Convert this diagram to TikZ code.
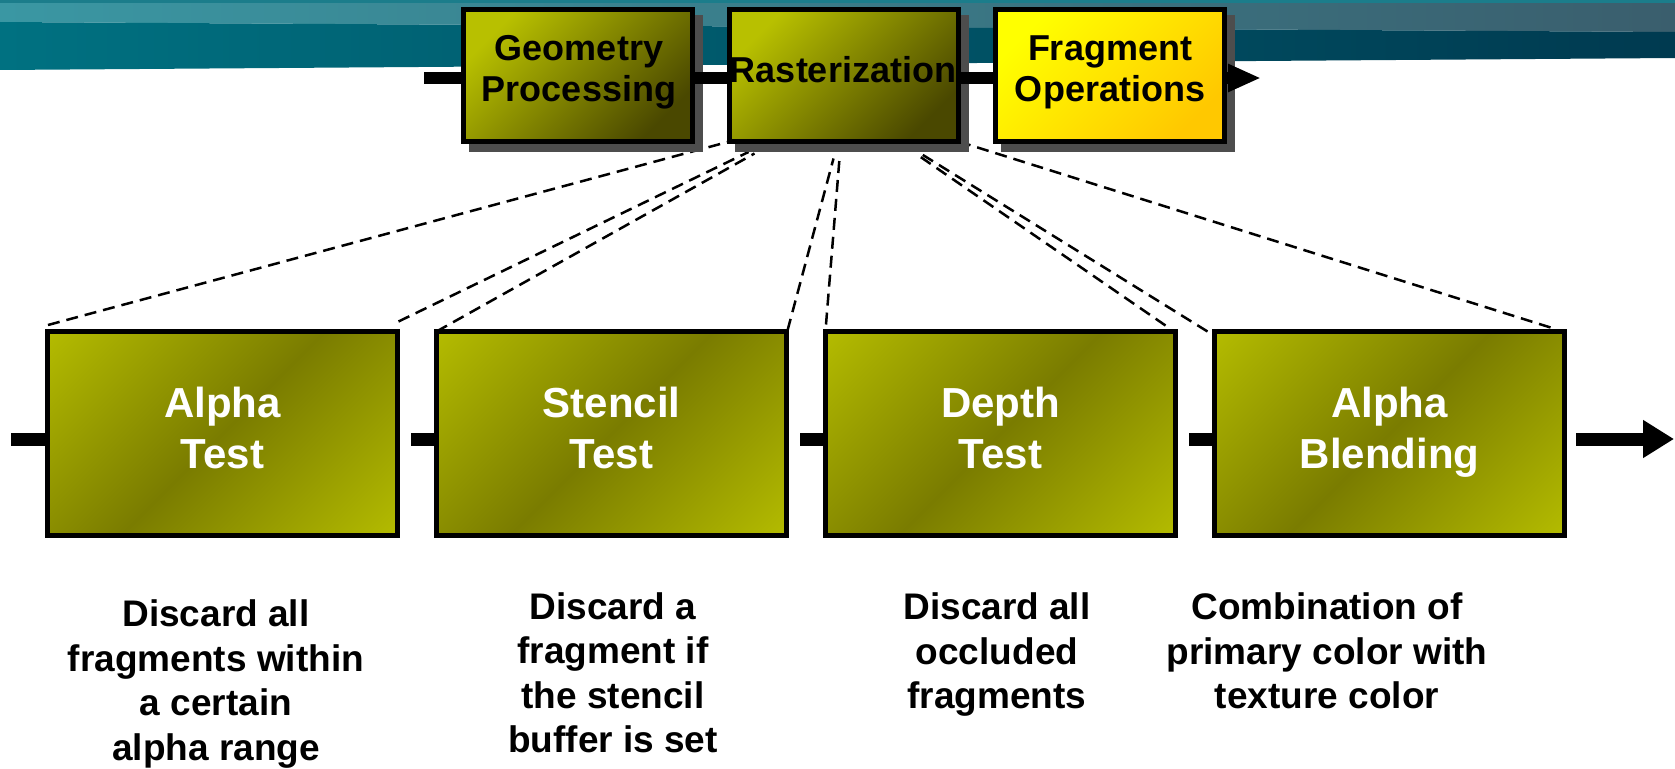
\documentclass[tikz,border=0pt]{standalone}
\usepackage{fontspec}
\setmainfont{Liberation Sans}
\usetikzlibrary{arrows.meta,calc}
\definecolor{bannerLA}{HTML}{3A97A3}
\definecolor{bannerLB}{HTML}{3A5E6D}
\definecolor{bannerDA}{HTML}{007181}
\definecolor{bannerDB}{HTML}{003A50}
\definecolor{bannerTop}{HTML}{1B7D8B}
\definecolor{oliveL}{HTML}{B8C000}
\definecolor{oliveD}{HTML}{7A7C00}
\definecolor{oliveDark}{HTML}{4A4800}
\definecolor{yelL}{HTML}{FFFF00}
\definecolor{yelD}{HTML}{FFC800}
\definecolor{shadowgray}{HTML}{4D4D4D}
\pgfdeclarehorizontalshading{boxrefl}{100bp}{color(0bp)=(oliveL); color(12bp)=(oliveL); color(50bp)=(oliveD); color(88bp)=(oliveL); color(100bp)=(oliveL)}
\pgfdeclarelayer{bglayer}
\pgfdeclarelayer{dashlayer}
\pgfdeclarelayer{shadowlayer}
\pgfdeclarelayer{barlayer}
\pgfsetlayers{bglayer,dashlayer,shadowlayer,barlayer,main}
\tikzset{
  stagebox/.style={draw=black, line width=5pt, inner sep=0pt, outer sep=0pt, rectangle},
  topbox/.style={stagebox, minimum width=229pt, minimum height=132pt},
  geobox/.style={topbox, left color=oliveL, right color=oliveDark, shading angle=45},
  fragbox/.style={topbox, left color=yelL, right color=yelD, shading angle=45},
  botbox/.style={stagebox, minimum width=350pt, minimum height=204pt,
    shade, shading=boxrefl, shading angle=-45},
  toptext/.style={font=\fontsize{36}{41}\selectfont\bfseries, align=center, text=black, inner sep=0pt},
  boxtext/.style={font=\fontsize{42}{51}\selectfont\bfseries, align=center, text=white, inner sep=0pt},
  desctext/.style={font=\fontsize{37}{44.5}\selectfont\bfseries, align=center, text=black, inner sep=0pt},
  topbar/.style={line width=12pt, draw=black},
  botbar/.style={line width=13pt, draw=black},
  zoomline/.style={line width=2.5pt, dash pattern=on 12pt off 7pt, draw=black},
}
\begin{document}
\begin{tikzpicture}[x=1pt,y=-1pt]
\useasboundingbox (0,0) rectangle (1675,768);

% banner
\begin{pgfonlayer}{bglayer}
\shade[left color=bannerLA, right color=bannerLB] (0,0) -- (1675,0) -- (1675,32) -- (0,22) -- cycle;
\shade[left color=bannerDA, right color=bannerDB] (0,22) -- (1675,32) -- (1675,58) -- (0,70) -- cycle;
\fill[bannerTop] (0,0) rectangle (1675,3);
\end{pgfonlayer}

% top pipeline boxes
\node[geobox] (geo) at (578,75.5) {};
\node[geobox] (ras) at (844,75.5) {};
\node[fragbox] (frag) at (1110,75.5) {};
\node[toptext] (geot) at (579,72.2) {Geometry\\Processing};
\node[toptext] (rast) at (843,70) {Rasterization};
\node[toptext] (fragt) at (1110,72.3) {Fragment\\Operations};

\begin{pgfonlayer}{shadowlayer}
\foreach \n in {geo,ras,frag}
  \fill[shadowgray] ($(\n.north west)+(5.5,5.5)$) rectangle ($(\n.south east)+(10.5,10.5)$);
\end{pgfonlayer}

\coordinate (tin) at (424,78);
\coordinate (tout) at (1261,78);
\begin{pgfonlayer}{barlayer}
\draw[topbar] (tin) -- (tin -| geo.west);
\draw[topbar] (geo.east |- tin) -- (ras.west |- tin);
\draw[topbar] (ras.east |- tin) -- (frag.west |- tin);
\draw[topbar, -{Triangle[length=33pt,width=26pt]}] (frag.east |- tin) -- (tout);
\end{pgfonlayer}

% bottom stage boxes
\node[botbox] (alpha) at (222.5,433.5) {};
\node[botbox] (sten) at (611.5,433.5) {};
\node[botbox] (depth) at (1000.5,433.5) {};
\node[botbox] (blend) at (1389.5,433.5) {};
\node[boxtext] (alphat) at (222.5,428) {Alpha\\Test};
\node[boxtext] (stent) at (611.5,428) {Stencil\\Test};
\node[boxtext] (deptht) at (1000.5,428) {Depth\\Test};
\node[boxtext] (blendt) at (1389.5,432.6) {Alpha\\Blending};

\coordinate (b0) at (11,439);
\coordinate (b1) at (411,439);
\coordinate (b2) at (800,439);
\coordinate (b3) at (1189,439);
\coordinate (b4) at (1576,439);
\coordinate (bend) at (1674,439);
\begin{pgfonlayer}{barlayer}
\draw[botbar] (b0) -- (b0 -| alpha.west);
\draw[botbar] (b1) -- (b1 -| sten.west);
\draw[botbar] (b2) -- (b2 -| depth.west);
\draw[botbar] (b3) -- (b3 -| blend.west);
\draw[botbar, -{Triangle[length=31pt,width=36pt]}] (b4) -- (bend);
\end{pgfonlayer}

% dashed zoom lines
\begin{pgfonlayer}{dashlayer}
\draw[zoomline] ($(alpha.north west)+(0.5,-6.5)$) -- (ras.south west);
\draw[zoomline] ($(alpha.north east)+(1,-10)$) -- ($(ras.south west)+(19,10.5)$);
\draw[zoomline] (sten.north west) -- ($(ras.south west)+(25,12)$);
\draw[zoomline] ($(sten.north east)+(1,-1)$) -- ($(ras.south west)+(104,17)$);
\draw[zoomline] ($(depth.north west)+(0.5,-7)$) -- ($(ras.south west)+(110,17)$);
\draw[zoomline] ($(depth.north east)+(-10,-6)$) -- ($(ras.south west)+(186,12)$);
\draw[zoomline] ($(blend.north west)+(-7,0)$) -- ($(ras.south west)+(191,12)$);
\draw[zoomline] ($(blend.north east)+(-14,-4)$) -- (ras.south east);
\end{pgfonlayer}

% descriptions
\node[desctext] (alphad) at (216,684) {Discard all\\fragments within\\a certain\\alpha range};
\node[desctext] (stend) at (613,673) {Discard a\\fragment if\\the stencil\\buffer is set};
\node[desctext] (depthd) at (997,655) {Discard all\\occluded\\fragments};
\node[desctext] (blendd) at (1327,651) {Combination of\\primary color with\\texture color};
\end{tikzpicture}
\end{document}
